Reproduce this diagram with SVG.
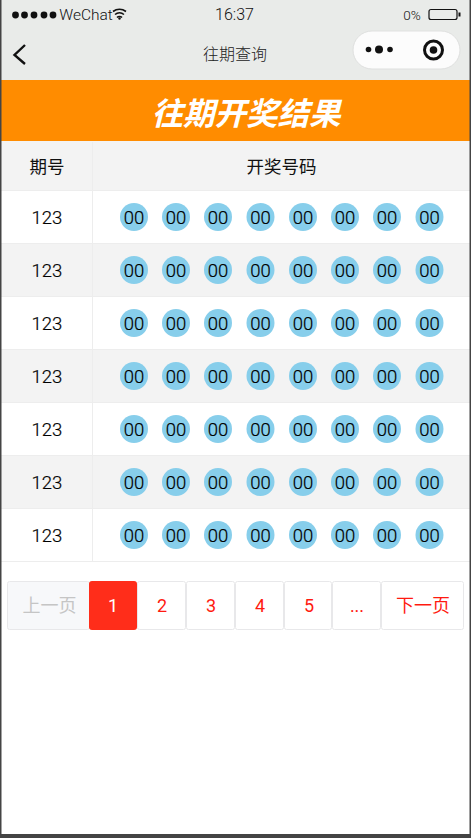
<svg xmlns="http://www.w3.org/2000/svg" width="471" height="838" viewBox="0 0 471 838">
<style>
text{font-family:"Roboto","Noto Sans CJK SC",sans-serif;font-weight:300;text-anchor:middle;fill:#000}
.cn{font-family:"Noto Sans CJK SC",sans-serif;font-weight:400}
.c{font-size:18.500px;fill:#000;stroke:#000;stroke-width:.2px}
.ball{fill:#87ceeb}
.alt{fill:#f3f3f3}
.ln{stroke:#ededed;stroke-width:1;fill:none}
.pg{fill:#fff;stroke:#e8e8ea;stroke-width:1}
.pt{font-size:18px;fill:#ff1a10;font-weight:400;font-family:"Roboto","Noto Sans CJK SC",sans-serif}
</style>
<defs>
<g id="balls">
<circle class="ball" cx="134" r="14"/><circle class="ball" cx="176" r="14"/><circle class="ball" cx="218" r="14"/><circle class="ball" cx="260.500" r="14"/><circle class="ball" cx="303" r="14"/><circle class="ball" cx="345" r="14"/><circle class="ball" cx="387" r="14"/><circle class="ball" cx="429.500" r="14"/>
<text class="c" x="134" y="6.500">00</text><text class="c" x="176" y="6.500">00</text><text class="c" x="218" y="6.500">00</text><text class="c" x="260.500" y="6.500">00</text><text class="c" x="303" y="6.500">00</text><text class="c" x="345" y="6.500">00</text><text class="c" x="387" y="6.500">00</text><text class="c" x="429.500" y="6.500">00</text>
</g>
</defs>
<rect width="471" height="838" fill="#fff"/>
<g id="statusbar">
<rect x="0" y="0" width="471" height="80" fill="#e9ebe9"/>
<circle cx="15.500" cy="15" r="3.400" fill="#111"/><circle cx="24.500" cy="15" r="3.400" fill="#111"/><circle cx="34" cy="15" r="3.400" fill="#111"/><circle cx="44" cy="15" r="3.400" fill="#111"/><circle cx="53" cy="15" r="3.400" fill="#111"/>
<text x="86" y="20" style="font-size:15.500px;fill:#111">WeChat</text>
<path d="M113 11.500a11 11 0 0 1 13 0M115 14.500a7 7 0 0 1 9 0M117 17.500a3.500 3.500 0 0 1 5 0" fill="none" stroke="#111" stroke-width="1.600"/>
<circle cx="119.500" cy="18.500" r="1.200" fill="#111"/>
<text x="234.500" y="20" style="font-size:16px;fill:#111">16:37</text>
<text x="412" y="20" style="font-size:13.500px;fill:#111">0%</text>
<rect x="429" y="9.500" width="28" height="10" rx="2" fill="none" stroke="#111" stroke-width="1.200"/>
<rect x="458.500" y="12.500" width="2" height="4" fill="#111"/>
</g>
<g id="navbar">
<path d="M25 45L14.500 55L25 64" fill="none" stroke="#111" stroke-width="2.400"/>
<text class="cn" x="235" y="60" style="font-size:16px;fill:#222;font-weight:300">往期查询</text>
<rect x="353" y="31" width="107" height="38" rx="19" fill="#fcfcfc" stroke="#dfe0df"/>
<circle cx="368.500" cy="49.500" r="2.800" fill="#111"/><circle cx="379" cy="49.500" r="4" fill="#111"/><circle cx="390" cy="49.500" r="2.800" fill="#111"/>
<circle cx="433.500" cy="50" r="9" fill="none" stroke="#111" stroke-width="3"/><circle cx="433.500" cy="50" r="3.800" fill="#111"/>
</g>
<g id="banner">
<rect x="0" y="80" width="471" height="61" fill="#ff8c00"/>
<text class="cn" x="246" y="125" style="font-size:31.500px;font-weight:700;font-style:italic;fill:#fff">往期开奖结果</text>
</g>
<g id="table-bg">
<rect x="0" y="141" width="471" height="49" class="alt"/>
<rect x="0" y="244" width="471" height="52" class="alt"/>
<rect x="0" y="350" width="471" height="52" class="alt"/>
<rect x="0" y="456" width="471" height="52" class="alt"/>
</g>
<g id="table-lines">
<path class="ln" d="M92.500 142V561M0 190.500H471M0 243.500H471M0 296.500H471M0 349.500H471M0 402.500H471M0 455.500H471M0 508.500H471M0 561.500H471"/>
</g>
<g id="table-head">
<text class="cn" x="47" y="173" style="font-size:17.500px;fill:#111">期号</text>
<text class="cn" x="281.500" y="173" style="font-size:17.500px;fill:#111">开奖号码</text>
</g>
<g id="row-1"><text class="c" x="47" y="223.500">123</text><use href="#balls" y="217"/></g>
<g id="row-2"><text class="c" x="47" y="276.500">123</text><use href="#balls" y="270"/></g>
<g id="row-3"><text class="c" x="47" y="329.500">123</text><use href="#balls" y="323"/></g>
<g id="row-4"><text class="c" x="47" y="382.500">123</text><use href="#balls" y="376"/></g>
<g id="row-5"><text class="c" x="47" y="435.500">123</text><use href="#balls" y="429"/></g>
<g id="row-6"><text class="c" x="47" y="488.500">123</text><use href="#balls" y="482"/></g>
<g id="row-7"><text class="c" x="47" y="541.500">123</text><use href="#balls" y="535"/></g>
<g id="pagination">
<g id="page-prev"><rect x="7.500" y="581.500" width="82" height="48" rx="2" fill="#f7f8fa" stroke="#e8e8ea"/><text class="pt" x="49.500" y="612" style="fill:#c5c5c5">上一页</text></g>
<g id="page-1"><rect x="89" y="581" width="48" height="49" rx="3" fill="#ff2d1a"/><text class="pt" x="113" y="612" style="fill:#fff">1</text></g>
<g id="page-2"><rect class="pg" x="137.500" y="581.500" width="48" height="48" rx="2"/><text class="pt" x="162" y="612">2</text></g>
<g id="page-3"><rect class="pg" x="186.500" y="581.500" width="48" height="48" rx="2"/><text class="pt" x="211" y="612">3</text></g>
<g id="page-4"><rect class="pg" x="235.500" y="581.500" width="48" height="48" rx="2"/><text class="pt" x="260" y="612">4</text></g>
<g id="page-5"><rect class="pg" x="284.500" y="581.500" width="47" height="48" rx="2"/><text class="pt" x="309" y="612">5</text></g>
<g id="page-more"><rect class="pg" x="332.500" y="581.500" width="48" height="48" rx="2"/><text class="pt" x="357" y="612">...</text></g>
<g id="page-next"><rect class="pg" x="381.500" y="581.500" width="82" height="48" rx="2"/><text class="pt" x="423" y="612">下一页</text></g>
</g>
<g id="frame">
<rect x="0" y="0" width="1.500" height="838" fill="#444"/>
<rect x="469.500" y="0" width="1.500" height="838" fill="#444"/>
<rect x="0" y="834" width="471" height="4" fill="#444"/>
</g>
</svg>
